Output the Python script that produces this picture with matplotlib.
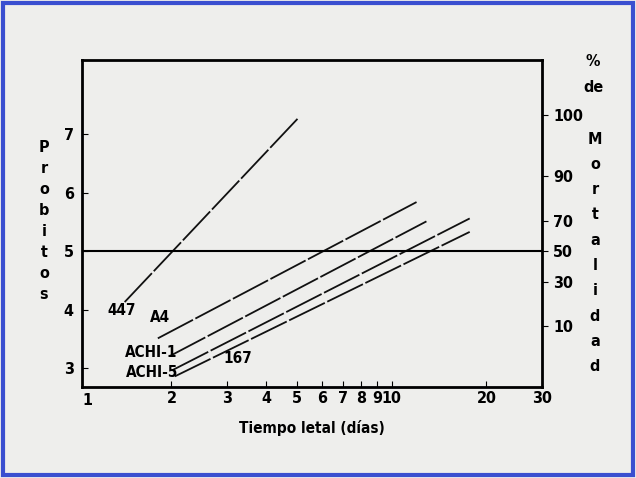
import matplotlib.pyplot as plt
from matplotlib.patches import Rectangle
from statistics import NormalDist

plt.rcParams['font.family'] = ['DejaVu Sans']
plt.rcParams['font.stretch'] = 'condensed'

# Probit regression lines: (start day, start probit) -> (end day, end probit)
line_names = ["447", "A4", "ACHI-1", "167", "ACHI-5"]
x_start = [1.42, 1.81, 1.98, 2.02, 2.05]
y_start = [4.13, 3.51, 3.21, 2.97, 2.86]
x_end = [5.04, 12.0, 12.9, 17.7, 17.7]
y_end = [7.27, 5.84, 5.51, 5.56, 5.33]

# Labels placed next to the lines
label_text = ["447", "A4", "ACHI-1", "ACHI-5", "167"]
label_x = [1.39, 1.84, 1.72, 1.73, 3.25]
label_y = [3.99, 3.86, 3.26, 2.93, 3.17]

left_ticks = [3, 4, 5, 6, 7]
x_ticks = [2, 3, 4, 5, 6, 7, 8, 9, 10, 20, 30]
mort_pct = [10, 30, 50, 70, 90, 99]
mort_labels = ["10", "30", "50", "70", "90", "100"]


def probit(p):
    return 5 + NormalDist().inv_cdf(p / 100)


fig = plt.figure(figsize=(6.36, 4.78), dpi=100, facecolor="#eeeeec")
ax = fig.add_axes([0.129, 0.190, 0.723, 0.684])
ax.set_facecolor("#eeeeec")

ax.set_xscale("log")
ax.set_xlim(1.04, 30)
ax.set_ylim(2.675, 8.265)

for i in range(len(line_names)):
    ax.plot([x_start[i], x_end[i]], [y_start[i], y_end[i]], color="#111111",
            lw=1.3, linestyle=(0, (22, 1.5)))

ax.axhline(5, color="black", lw=1.5)

for t, lx, ly in zip(label_text, label_x, label_y):
    ax.text(lx, ly, t, fontsize=11, fontweight="bold", ha="center", va="center")

ax.set_xticks(x_ticks)
ax.set_xticklabels([str(v) for v in x_ticks], fontsize=11.5, fontweight="bold")
ax.minorticks_off()
ax.annotate("1", xy=(1.04, 2.675), xycoords="data", xytext=(4, -4),
            textcoords="offset points", fontsize=11.5, fontweight="bold",
            ha="center", va="top")
ax.xaxis.set_tick_params(which="both", direction="in", length=4, pad=3)
ax.set_yticks(left_ticks)
ax.set_yticklabels([str(v) for v in left_ticks], fontsize=11.5, fontweight="bold")
ax.tick_params(axis="y", direction="in", length=4, pad=6)
for s in ax.spines.values():
    s.set_linewidth(2)

ax.set_xlabel("Tiempo letal (días)", fontsize=11, fontweight="bold", labelpad=10)

ax2 = ax.twinx()
ax2.set_ylim(ax.get_ylim())
ax2.set_yticks([probit(p) for p in mort_pct])
ax2.set_yticklabels(mort_labels, fontsize=11.5, fontweight="bold")
ax2.tick_params(axis="y", direction="out", length=4, pad=4)
for s in ax2.spines.values():
    s.set_visible(False)

# vertical axis titles written letter by letter
for i, ch in enumerate("Probitos"):
    fig.text(44 / 636, 1 - (147 + 21.1 * i) / 478, ch, fontsize=11.5, fontweight="bold",
             ha="center", va="center")
fig.text(593 / 636, 1 - 62 / 478, "%", fontsize=11.5, fontweight="bold", ha="center", va="center")
fig.text(593 / 636, 1 - 88 / 478, "de", fontsize=11.5, fontweight="bold", ha="center", va="center")
for i, ch in enumerate("Mortalidad"):
    fig.text(595 / 636, 1 - (139 + 25.3 * i) / 478, ch, fontsize=11.5, fontweight="bold",
             ha="center", va="center")

fig.patches.append(Rectangle((3 / 636, 3 / 478), 630 / 636, 472 / 478, transform=fig.transFigure,
                             fill=False, edgecolor="#3a4fd0", lw=3))

fig.savefig("out.png", dpi=100, facecolor=fig.get_facecolor())
